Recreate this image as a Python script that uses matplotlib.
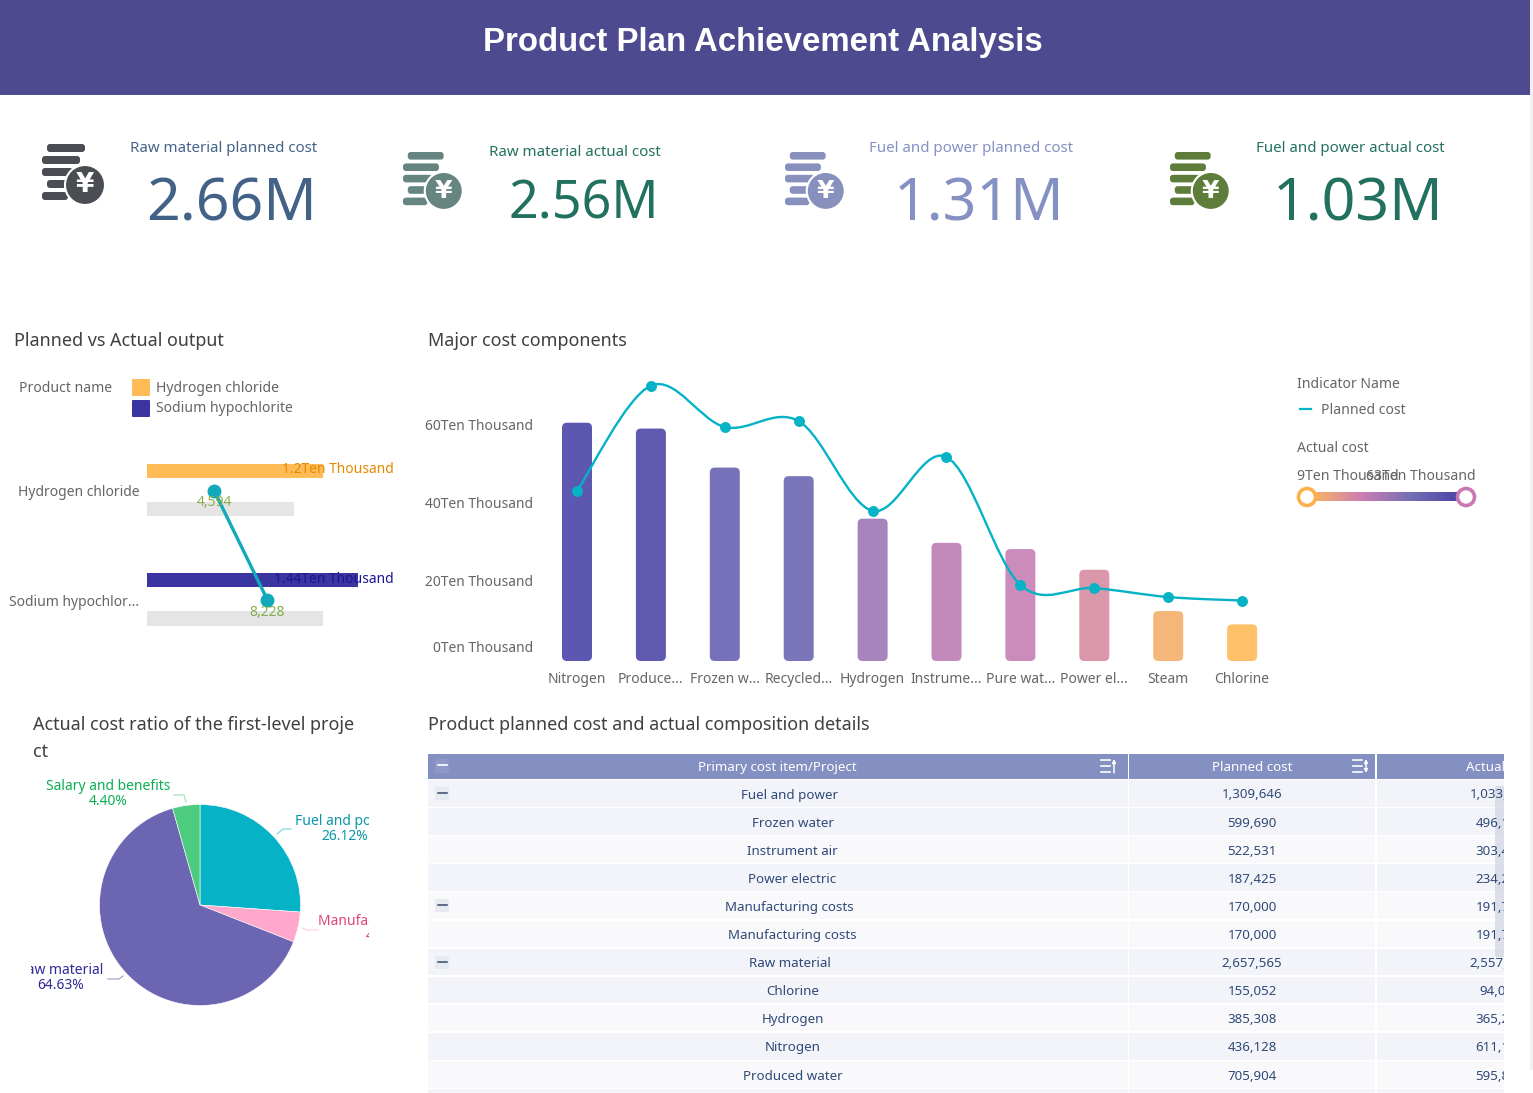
import matplotlib
matplotlib.use("Agg")
import matplotlib.pyplot as plt
import numpy as np
from matplotlib.colors import LinearSegmentedColormap
from matplotlib.patches import FancyBboxPatch, PathPatch, Circle, Rectangle
from matplotlib.path import Path
from matplotlib.transforms import ScaledTranslation

W, H = 1533, 1093
plt.rcParams['font.family'] = ['Noto Sans', 'DejaVu Sans']

# kpi cards
kpi_titles = ["Raw material planned cost", "Raw material actual cost",
              "Fuel and power planned cost", "Fuel and power actual cost"]
kpi_values = ["2.66M", "2.56M", "1.31M", "1.03M"]

# planned vs actual output
products = ["Hydrogen chloride", "Sodium hypochlor..."]
output_planned = [12000, 14400]
output_actual = [4594, 8228]
output_ref = [10000, 12000]

# major cost components, in ten thousands
components = ["Nitrogen", "Produce...", "Frozen w...", "Recycled...", "Hydrogen",
              "Instrume...", "Pure wat...", "Power el...", "Steam", "Chlorine"]
actual_cost = [61.1, 59.6, 49.6, 47.4, 36.5, 30.3, 28.7, 23.4, 12.8, 9.4]
planned_cost = [43.6, 70.6, 60.0, 61.5, 38.5, 52.3, 19.5, 18.7, 16.4, 15.5]
cost_ticks = [0, 20, 40, 60]

# first level cost ratio
pie_names = ["Fuel and power", "Manufacturing costs", "Raw material", "Salary and benefits"]
pie_shares = [26.12, 4.85, 64.63, 4.40]

# detail table
table_items = ["Fuel and power", "Frozen water", "Instrument air", "Power electric",
               "Manufacturing costs", "Manufacturing costs", "Raw material", "Chlorine",
               "Hydrogen", "Nitrogen", "Produced water"]
table_planned = ["1,309,646", "599,690", "522,531", "187,425", "170,000", "170,000",
                 "2,657,565", "155,052", "385,308", "436,128", "705,904"]
table_actual = ["1,033,180", "496,120", "303,440", "234,250", "191,730", "191,730",
                "2,557,300", "94,020", "365,240", "611,130", "595,820"]
table_parent = [True, False, False, False, True, False, True, False, False, False, False]
table_shade = [True, True, False, True, False, False, True, True, False, True, False]

TEAL = '#05B2C6'
TXT = '#666666'
cost_cmap = LinearSegmentedColormap.from_list(
    'cost', ['#FFB64D', '#CB79AF', '#6B65B0', '#3A34A0'])


def px_axes(x0, y0, x1, y1):
    ax = fig.add_axes([x0 / W, 1 - y1 / H, (x1 - x0) / W, (y1 - y0) / H])
    ax.patch.set_alpha(0)
    return ax


def T(x, y, s, px=14, color=TXT, ha='left', weight='normal', **kw):
    return bg.text(x, y, s, fontsize=px * 0.72, color=color, ha=ha, va='center',
                   fontweight=weight, **kw)


def coin_icon(x, y, color, k=1.0):
    # stack of coins with a yen disc, x y is the top left corner
    for x0, x1, y0 in [(5, 47, 0), (0, 42, 12), (0, 35, 24), (5, 30, 36), (0, 30, 48)]:
        bg.add_patch(FancyBboxPatch((x + x0 * k + 3, y + y0 * k + 1), (x1 - x0) * k - 6, 8 * k - 2,
                                    boxstyle="round,pad=1,rounding_size=3", fc=color, ec='none'))
    cx, cy = x + 45 * k, y + 41 * k
    bg.add_patch(Circle((cx, cy), 20 * k, fc=color, ec='white', lw=1.5))
    bg.text(cx, cy, "¥", color='white', fontsize=19 * k, fontweight='bold', ha='center', va='center',
            family='DejaVu Sans')


fig = plt.figure(figsize=(W / 100, H / 100), dpi=100)
bg = fig.add_axes([0, 0, 1, 1])
bg.set_xlim(0, W)
bg.set_ylim(H, 0)
bg.axis('off')

# page furniture
bg.add_patch(Rectangle((0, 0), 1530, 95, fc='#4D4A8F', ec='none'))
bg.add_patch(Rectangle((1530, 0), 3, 1070, fc='#F1F1F1', ec='none'))
T(763, 42, "Product Plan Achievement Analysis", px=33, color='white', ha='center', weight='bold',
  family='Liberation Sans')

kpi_colors = ['#436288', '#22705F', '#8590C3', '#22705F']
icon_colors = ['#4A4E53', '#668480', '#8890BD', '#5E7D3B']
icon_pos = [(40, 144, 1.0), (401, 152, 0.95), (783, 152, 0.95), (1168, 152, 0.95)]
title_pos = [(224, 148), (575, 153), (971, 148), (1350, 148)]
value_pos = [(232, 205, 59), (584, 205, 52), (979, 205, 59), (1358, 205, 59)]
for i in range(4):
    coin_icon(*icon_pos[i][:2], icon_colors[i], icon_pos[i][2])
    T(*title_pos[i], kpi_titles[i], px=15, color=kpi_colors[i], ha='center', weight='bold')
    T(*value_pos[i][:2], kpi_values[i], px=value_pos[i][2], color=kpi_colors[i], ha='center', weight='bold')

# section headings
T(14, 341, "Planned vs Actual output", px=18, color='#404040', weight='bold')
T(428, 341, "Major cost components", px=18, color='#404040', weight='bold')
T(33, 725, "Actual cost ratio of the first-level proje", px=18, color='#404040', weight='bold')
T(33, 752, "ct", px=18, color='#404040', weight='bold')
T(428, 725, "Product planned cost and actual composition details", px=18, color='#404040', weight='bold')

# left legend
T(19, 388, "Product name")
for y, c, name in [(379, '#FFBB55', "Hydrogen chloride"), (400, '#3A35A0', "Sodium hypochlorite")]:
    bg.add_patch(FancyBboxPatch((133, y + 1), 16, 15, boxstyle="round,pad=1,rounding_size=1", fc=c, ec='none'))
    T(156, y + 9, name)

# bullet chart
PX_PER_UNIT = 0.0147
ROW = 109.5
ax = px_axes(146.5, 450, 400, 640)
ax.set_xlim(0, 253.5 / PX_PER_UNIT)
ax.set_ylim(149.5 / ROW, -40.5 / ROW)
ypos = np.arange(2)
ax.barh(ypos + 0.169, output_ref, height=0.13, color='#E5E5E5')
ax.barh(ypos - 0.18, output_planned, height=0.125, color=['#FFBB55', '#3A35A0'])
ax.plot(output_actual, ypos, color='#12A9BA', lw=2.4, marker='o', ms=9)
for v, y, c, s in zip(output_planned, ypos, ['#E58A00', '#1B1595'], ["1.2Ten Thousand", "1.44Ten Thousand"]):
    ax.text(394 - 146.5, y - 0.19, s, color=c, fontsize=10, ha='right', va='center',
            transform=ax.get_yaxis_transform() + ScaledTranslation(0, 0, fig.dpi_scale_trans)
            if False else ax.transData + ScaledTranslation(0, 0, fig.dpi_scale_trans)
            if False else ax.get_yaxis_transform(), clip_on=False) if False else None
    ax.annotate(s, (1, y - 0.19), xycoords=ax.get_yaxis_transform(), xytext=(-6, 0),
                textcoords='offset pixels', color=c, fontsize=10, ha='right', va='center')
for v, y in zip(output_actual, ypos):
    ax.annotate(f"{v:,}", (v, y), xytext=(0, -12.5), textcoords='offset pixels',
                color='#84AF4B', fontsize=10, ha='center', va='center')
ax.set_yticks(ypos, products)
ax.set_xticks([])
ax.tick_params(axis='y', length=0, pad=5, labelsize=10, labelcolor=TXT)
for s in ax.spines.values():
    s.set_visible(False)

# combo chart
STEP = 73.9
WAN = 3.9
ax = px_axes(540, 370, 1279, 661)
ax.set_xlim(-37 / STEP, 702 / STEP)
ax.set_ylim(0, 291 / WAN)
xs = np.arange(len(components))
bar_w = 30 / STEP
for x, v in zip(xs, actual_cost):
    c = cost_cmap((v - 9) / (63 - 9))
    ax.add_patch(FancyBboxPatch((x - bar_w / 2, 0), bar_w, v,
                                boxstyle=f"round,pad=0,rounding_size={5 / STEP}",
                                mutation_aspect=STEP / WAN, fc=c, ec='none', alpha=0.85))
# smooth planned line, bezier handles from the neighbouring points
pts = np.column_stack([xs, planned_cost])
verts = [pts[0]]
codes = [Path.MOVETO]
for i in range(len(pts) - 1):
    t0 = (pts[i + 1] - pts[max(i - 1, 0)]) / 2
    t1 = (pts[min(i + 2, len(pts) - 1)] - pts[i]) / 2
    verts += [pts[i] + t0 / 3, pts[i + 1] - t1 / 3, pts[i + 1]]
    codes += [Path.CURVE4] * 3
ax.add_patch(PathPatch(Path(verts, codes), fc='none', ec=TEAL, lw=1.7, clip_on=False))
ax.scatter(xs, planned_cost, s=62, color=TEAL, zorder=5, linewidths=0, clip_on=False)
ax.set_xticks(xs, components)
ax.set_yticks(cost_ticks, [f"{v}Ten Thousand" for v in cost_ticks])
ax.tick_params(axis='both', length=0, labelsize=10, labelcolor=TXT)
ax.tick_params(axis='x', pad=8)
ax.tick_params(axis='y', pad=5)
for lab, dy in zip(ax.get_yticklabels(), [14, 2, 2, 2]):
    lab.set_transform(lab.get_transform() + ScaledTranslation(0, dy / 100, fig.dpi_scale_trans))
for s in ax.spines.values():
    s.set_visible(False)

# right legend with the colour slider
T(1297, 385, "Indicator Name")
bg.plot([1300, 1311], [409, 409], color=TEAL, lw=1.6)
T(1321, 410, "Planned cost")
T(1297, 448, "Actual cost")
T(1297, 476, "9Ten Thousand")
T(1476, 476, "63Ten Thousand", ha='right')
grad = np.linspace(0, 1, 256).reshape(1, -1)
bg.imshow(grad, cmap=cost_cmap, extent=(1307, 1466, 501, 492), aspect='auto', alpha=0.95)
bg.set_xlim(0, W)
bg.set_ylim(H, 0)
bg.add_patch(Circle((1307, 497), 8.5, fc='white', ec='#FFB04D', lw=2.6))
bg.add_patch(Circle((1466, 497), 8.5, fc='white', ec='#C879B2', lw=2.6))

# pie, the axes are in page pixels and clip the labels like the panel does
ax = px_axes(31, 770, 369, 1040)
ax.set_xlim(31, 369)
ax.set_ylim(H - 1040, H - 770)
ax.pie(pie_shares, colors=[TEAL, '#FFA8CC', '#6C66B2', '#4DCB7E'], startangle=90, counterclock=False,
       center=(200, H - 905), radius=100.5, wedgeprops=dict(linewidth=0.4, edgecolor='white'), frame=True)
ax.set_xlim(31, 369)
ax.set_ylim(H - 1040, H - 770)
ax.axis('off')
pie_lab = [(345, 829, '#0A97A8'), (385, 929, '#E0457F'), (61, 978, '#2F2A96'), (108, 794, '#0DAE52')]
for name, share, (x, y, c) in zip(pie_names, pie_shares, pie_lab):
    ax.text(x, H - y, f"{name}\n{share:.2f}%", color=c, fontsize=10, ha='center', va='center',
            linespacing=1.05, clip_on=True)
leaders = [([277, 283, 291], [834, 829, 829], '#7FD8E2'), ([302, 307, 318], [928, 930, 930], '#FFD3E5'),
           ([108, 119, 123], [979, 979, 976], '#A5A2D1'), ([174, 184, 186], [795, 795, 802], '#A6E5BE')]
for lx, ly, c in leaders:
    ax.plot(lx, H - np.array(ly), color=c, lw=0.9)

# table, also in page pixels so it cuts off at the right hand edge
ax = px_axes(428, 754, 1504, 1093)
ax.set_xlim(428, 1504)
ax.set_ylim(1093, 754)
ax.axis('off')
ax.add_patch(Rectangle((428, 754), 700, 25, fc='#8490C2', ec='none'))
ax.add_patch(Rectangle((1129, 754), 246, 25, fc='#8490C2', ec='none'))
ax.add_patch(Rectangle((1377, 754), 130, 25, fc='#8490C2', ec='none'))
ax.add_patch(Rectangle((435, 759), 14, 14, fc='#8E99C8', ec='none'))
ax.plot([438, 447], [765, 765], color='white', lw=1.2)
for x, s in [(777.5, "Primary cost item/Project"), (1252, "Planned cost"), (1500, "Actual cost")]:
    ax.text(x, 767, s, color='white', fontsize=9.6, fontweight='bold', ha='center', va='center', clip_on=True)
for x0, both in [(1101, False), (1353, True)]:
    for dy, ln in [(760, 9), (766, 9), (772, 9)]:
        ax.plot([x0, x0 + ln], [dy, dy], color='white', lw=1.2)
    ax.annotate("", (x0 + 13, 759), xytext=(x0 + 13, 767 if both else 773),
                arrowprops=dict(arrowstyle='-|>', color='white', lw=1.1, mutation_scale=5, shrinkA=0, shrinkB=0))
    if both:
        ax.annotate("", (x0 + 13, 773), xytext=(x0 + 13, 768),
                    arrowprops=dict(arrowstyle='-|>', color='white', lw=1.1, mutation_scale=5, shrinkA=0, shrinkB=0))

RH = 28.1
for i in range(12):
    top = 780 + RH * i
    fc = '#F3F4F9' if (i >= len(table_shade) or table_shade[i]) else '#F9F9FC'
    for x0, w in [(428, 700), (1129, 246), (1377, 130)]:
        ax.add_patch(Rectangle((x0, top), w, RH - 1.5, fc=fc, ec='none'))
    if i >= len(table_items):
        continue
    yc = top + 15
    if table_parent[i]:
        ax.add_patch(Rectangle((435, top + 7), 14, 13, fc='#E8EAF2', ec='none'))
        ax.plot([438, 447], [top + 13, top + 13], color='#3A4A6A', lw=1.1)
    ax.text(789.5 if table_parent[i] else 792.5, yc, table_items[i], color='#2F4A78', fontsize=9.6,
            ha='center', va='center', clip_on=True)
    ax.text(1252, yc, table_planned[i], color='#2F4A78', fontsize=9.6, ha='center', va='center', clip_on=True)
    ax.text(1500, yc, table_actual[i], color='#2F4A78', fontsize=9.6, ha='center', va='center', clip_on=True)
ax.add_patch(FancyBboxPatch((1497, 788), 7, 167, boxstyle="round,pad=2,rounding_size=2",
                            fc='#C9CEDD', ec='none', alpha=0.6))

fig.savefig("out.png", dpi=100)
